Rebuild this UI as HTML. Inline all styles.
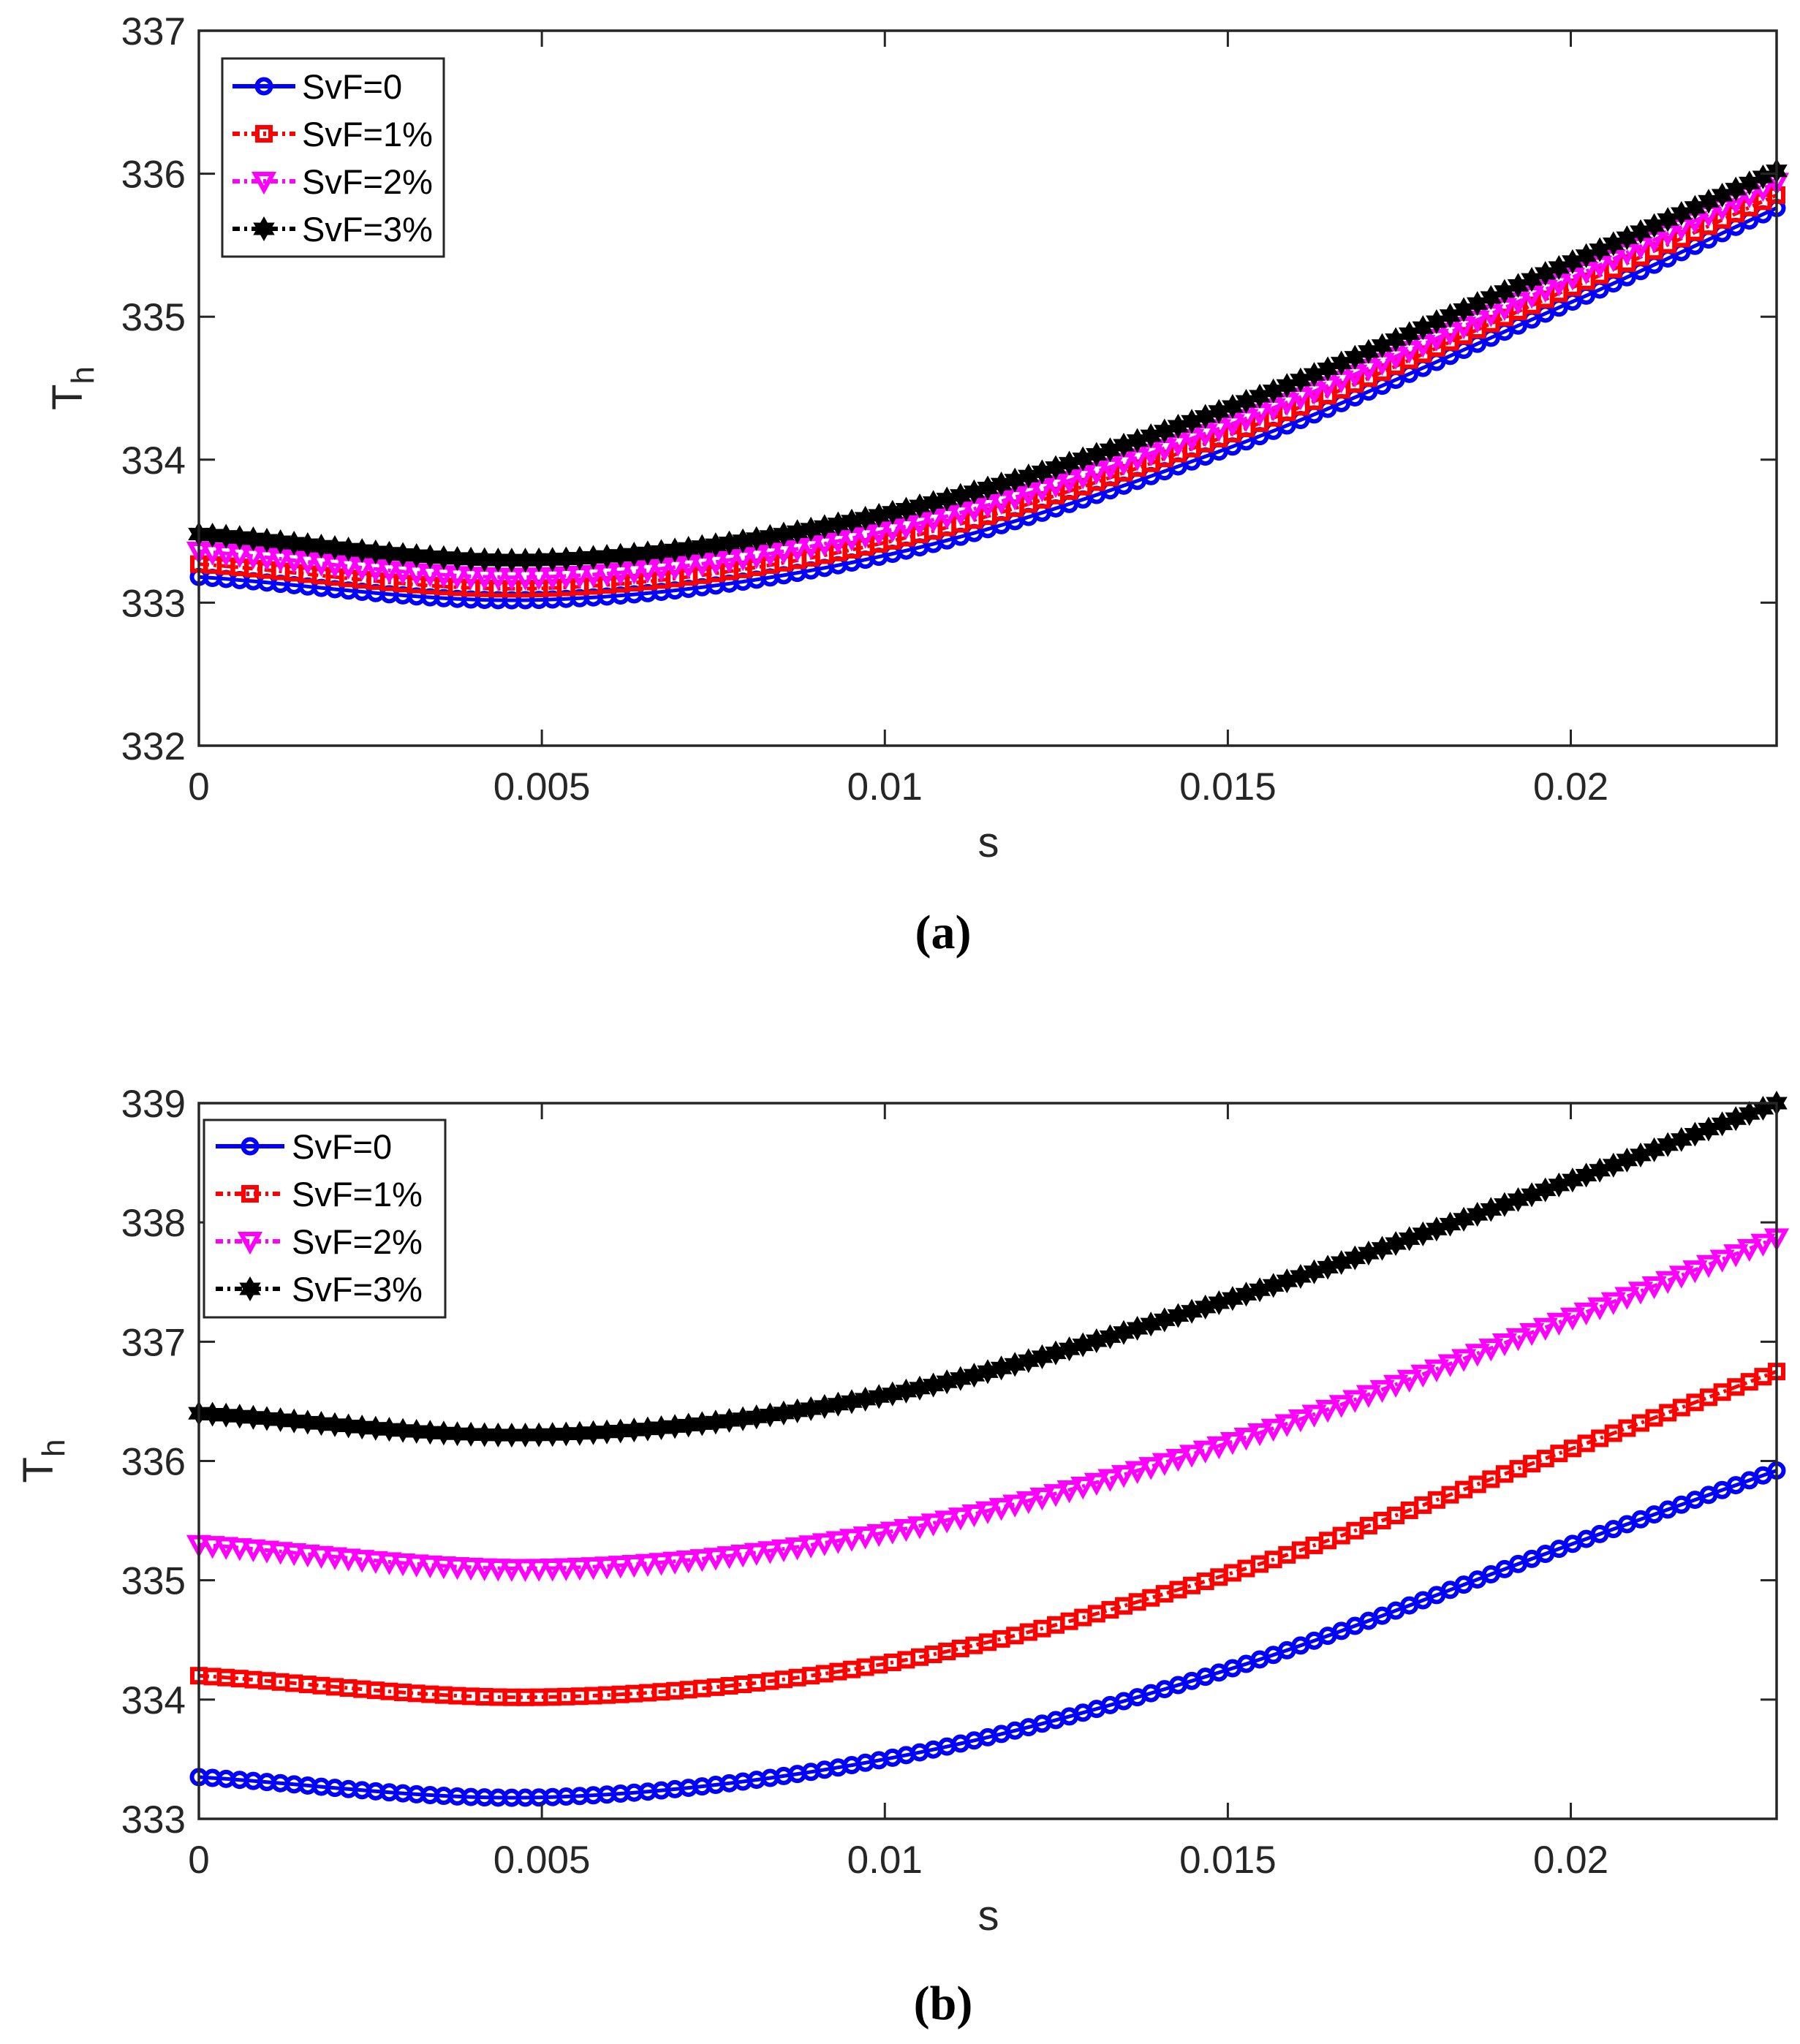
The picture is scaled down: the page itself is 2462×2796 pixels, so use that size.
<!DOCTYPE html>
<html><head><meta charset="utf-8"><style>
html,body{margin:0;padding:0;background:#fff;}
svg{display:block;}
text{font-family:"Liberation Sans",sans-serif;fill:#262626;}
</style></head><body>
<svg id="s" width="2462" height="2796" xmlns="http://www.w3.org/2000/svg">
<rect width="2462" height="2796" fill="#fff"/>
<g id="root"></g>
</svg>
<script>
const NS="http://www.w3.org/2000/svg";
const root=document.getElementById('root');
function el(t,a,p){const e=document.createElementNS(NS,t);for(const k in a)e.setAttribute(k,a[k]);(p||root).appendChild(e);return e;}
function txt(s,a,p){const e=el('text',a,p);e.textContent=s;return e;}
const XL=272,XR=2430,XMAX=0.023;
const xs=[0,0.005,0.01,0.015,0.02,0.023];
function interp(ys,x){
  let i=0;while(i<xs.length-2&&x>xs[i+1])i++;
  const x0=xs[i],x1=xs[i+1],t=(x-x0)/(x1-x0);
  const y0=ys[i],y1=ys[i+1];
  const ym=i>0?ys[i-1]:y0-(y1-y0),yp=i+2<ys.length?ys[i+2]:y1+(y1-y0);
  const xm=i>0?xs[i-1]:x0-(x1-x0),xp=i+2<xs.length?xs[i+2]:x1+(x1-x0);
  const m0=(y1-ym)/(x1-xm)*(x1-x0),m1=(yp-y0)/(xp-x0)*(x1-x0);
  const t2=t*t,t3=t2*t;
  return (2*t3-3*t2+1)*y0+(t3-2*t2+t)*m0+(-2*t3+3*t2)*y1+(t3-t2)*m1;
}
function marker(type,x,y,col,g){
  if(type==='o')el('circle',{cx:x,cy:y,r:9.5,fill:'none',stroke:col,'stroke-width':6},g);
  else if(type==='s')el('rect',{x:x-9,y:y-9,width:18,height:18,fill:'none',stroke:col,'stroke-width':6},g);
  else if(type==='v')el('polygon',{points:`${x-12},${y-10} ${x+12},${y-10} ${x},${y+12}`,fill:'none',stroke:col,'stroke-width':6},g);
  else{const r=14,r2=8;let p=[];for(let k=0;k<12;k++){const a=Math.PI/6*k-Math.PI/2;const rr=k%2?r2:r;p.push((x+rr*Math.cos(a)).toFixed(1)+','+(y+rr*Math.sin(a)).toFixed(1));}
    el('polygon',{points:p.join(' '),fill:col,stroke:col,'stroke-width':3},g);}
}
const styles=[['#0000ff','o',''],['#ff0000','s','14 6 4 6'],['#ff00ff','v','14 6 4 6'],['#000000','h','14 6 4 6']];
function panel(YT,YB,ymin,ymax,data,leg,labx){
  const sy=v=>YB-(v-ymin)/(ymax-ymin)*(YB-YT);
  const sx=v=>XL+v/XMAX*(XR-XL);
  const g=el('g',{});
  data.forEach((ys,si)=>{
    const [col,mk,da]=styles[si];
    const N=116;const pts=[];
    for(let k=0;k<=N;k++){const x=k/N*XMAX;const y=interp(ys,x);pts.push([sx(x),sy(y)]);}
    const d=pts.map((p,i)=>(i?'L':'M')+p[0].toFixed(1)+' '+p[1].toFixed(1)).join(' ');
    const a={d:d,fill:'none',stroke:col,'stroke-width':5};if(da)a['stroke-dasharray']=da;
    el('path',a,g);
    pts.forEach(p=>marker(mk,p[0],p[1],col,g));
  });
  el('rect',{x:XL,y:YT,width:XR-XL,height:YB-YT,fill:'none',stroke:'#262626','stroke-width':3.5});
  for(let v=ymin;v<=ymax;v++){const y=sy(v);
    el('line',{x1:XL,y1:y,x2:XL+22,y2:y,stroke:'#262626','stroke-width':3});
    el('line',{x1:XR,y1:y,x2:XR-22,y2:y,stroke:'#262626','stroke-width':3});
    txt(String(v),{x:254,y:y+19,'font-size':53,'text-anchor':'end'});}
  [0,0.005,0.01,0.015,0.02].forEach((v,i)=>{const x=sx(v);
    el('line',{x1:x,y1:YB,x2:x,y2:YB-22,stroke:'#262626','stroke-width':3});
    el('line',{x1:x,y1:YT,x2:x,y2:YT+22,stroke:'#262626','stroke-width':3});
    txt(['0','0.005','0.01','0.015','0.02'][i],{x:x,y:YB+74,'font-size':53,'text-anchor':'middle'});});
  txt('s',{x:1352,y:YB+152,'font-size':58,'text-anchor':'middle'});
  const cy=(YT+YB)/2;
  const t=el('text',{transform:`translate(${labx},${cy}) rotate(-90)`,'font-size':58,'text-anchor':'middle'});
  t.appendChild(document.createTextNode('T'));
  const sub=document.createElementNS(NS,'tspan');sub.setAttribute('dy','16');sub.setAttribute('font-size','44');sub.textContent='h';t.appendChild(sub);
  const [lx1,ly1,lx2,ly2,rows,l0,l1,tx]=leg;
  el('rect',{x:lx1,y:ly1,width:lx2-lx1,height:ly2-ly1,fill:'#fff',stroke:'#262626','stroke-width':3});
  ['SvF=0','SvF=1%','SvF=2%','SvF=3%'].forEach((s,i)=>{const [col,mk,da]=styles[i];const y=rows[i];
    const a={x1:l0,y1:y,x2:l1,y2:y,stroke:col,'stroke-width':6};if(da)a['stroke-dasharray']='10 6 4 6';
    el('line',a);marker(mk,(l0+l1)/2,y,col,root);
    txt(s,{x:tx,y:y+17,'font-size':47,style:'fill:#000'});});
}
panel(42,1020,332,337,[
 [333.18,333.02,333.33,334.08,335.1,335.76],
 [333.27,333.1,333.42,334.17,335.2,335.85],
 [333.36,333.18,333.5,334.24,335.27,335.94],
 [333.48,333.3,333.62,334.36,335.38,336.02]],
 [304,80,607,351,[118,183,248,313],318,404,413],112);
panel(1509,2488,333,339,[
 [333.35,333.18,333.5,334.25,335.3,335.92],
 [334.2,334.02,334.3,335.05,336.1,336.75],
 [335.3,335.1,335.4,336.15,337.2,337.87],
 [336.4,336.22,336.55,337.35,338.35,339.0]],
 [279,1532,609,1802,[1568,1633,1698,1763],295,389,399],72);
const ca=el('text',{x:1290,y:1297,'font-size':66,'text-anchor':'middle','font-weight':'bold',style:'font-family:"Liberation Serif",serif;fill:#000'});ca.textContent='(a)';
const cb=el('text',{x:1290,y:2762,'font-size':66,'text-anchor':'middle','font-weight':'bold',style:'font-family:"Liberation Serif",serif;fill:#000'});cb.textContent='(b)';
</script>
</body></html>
